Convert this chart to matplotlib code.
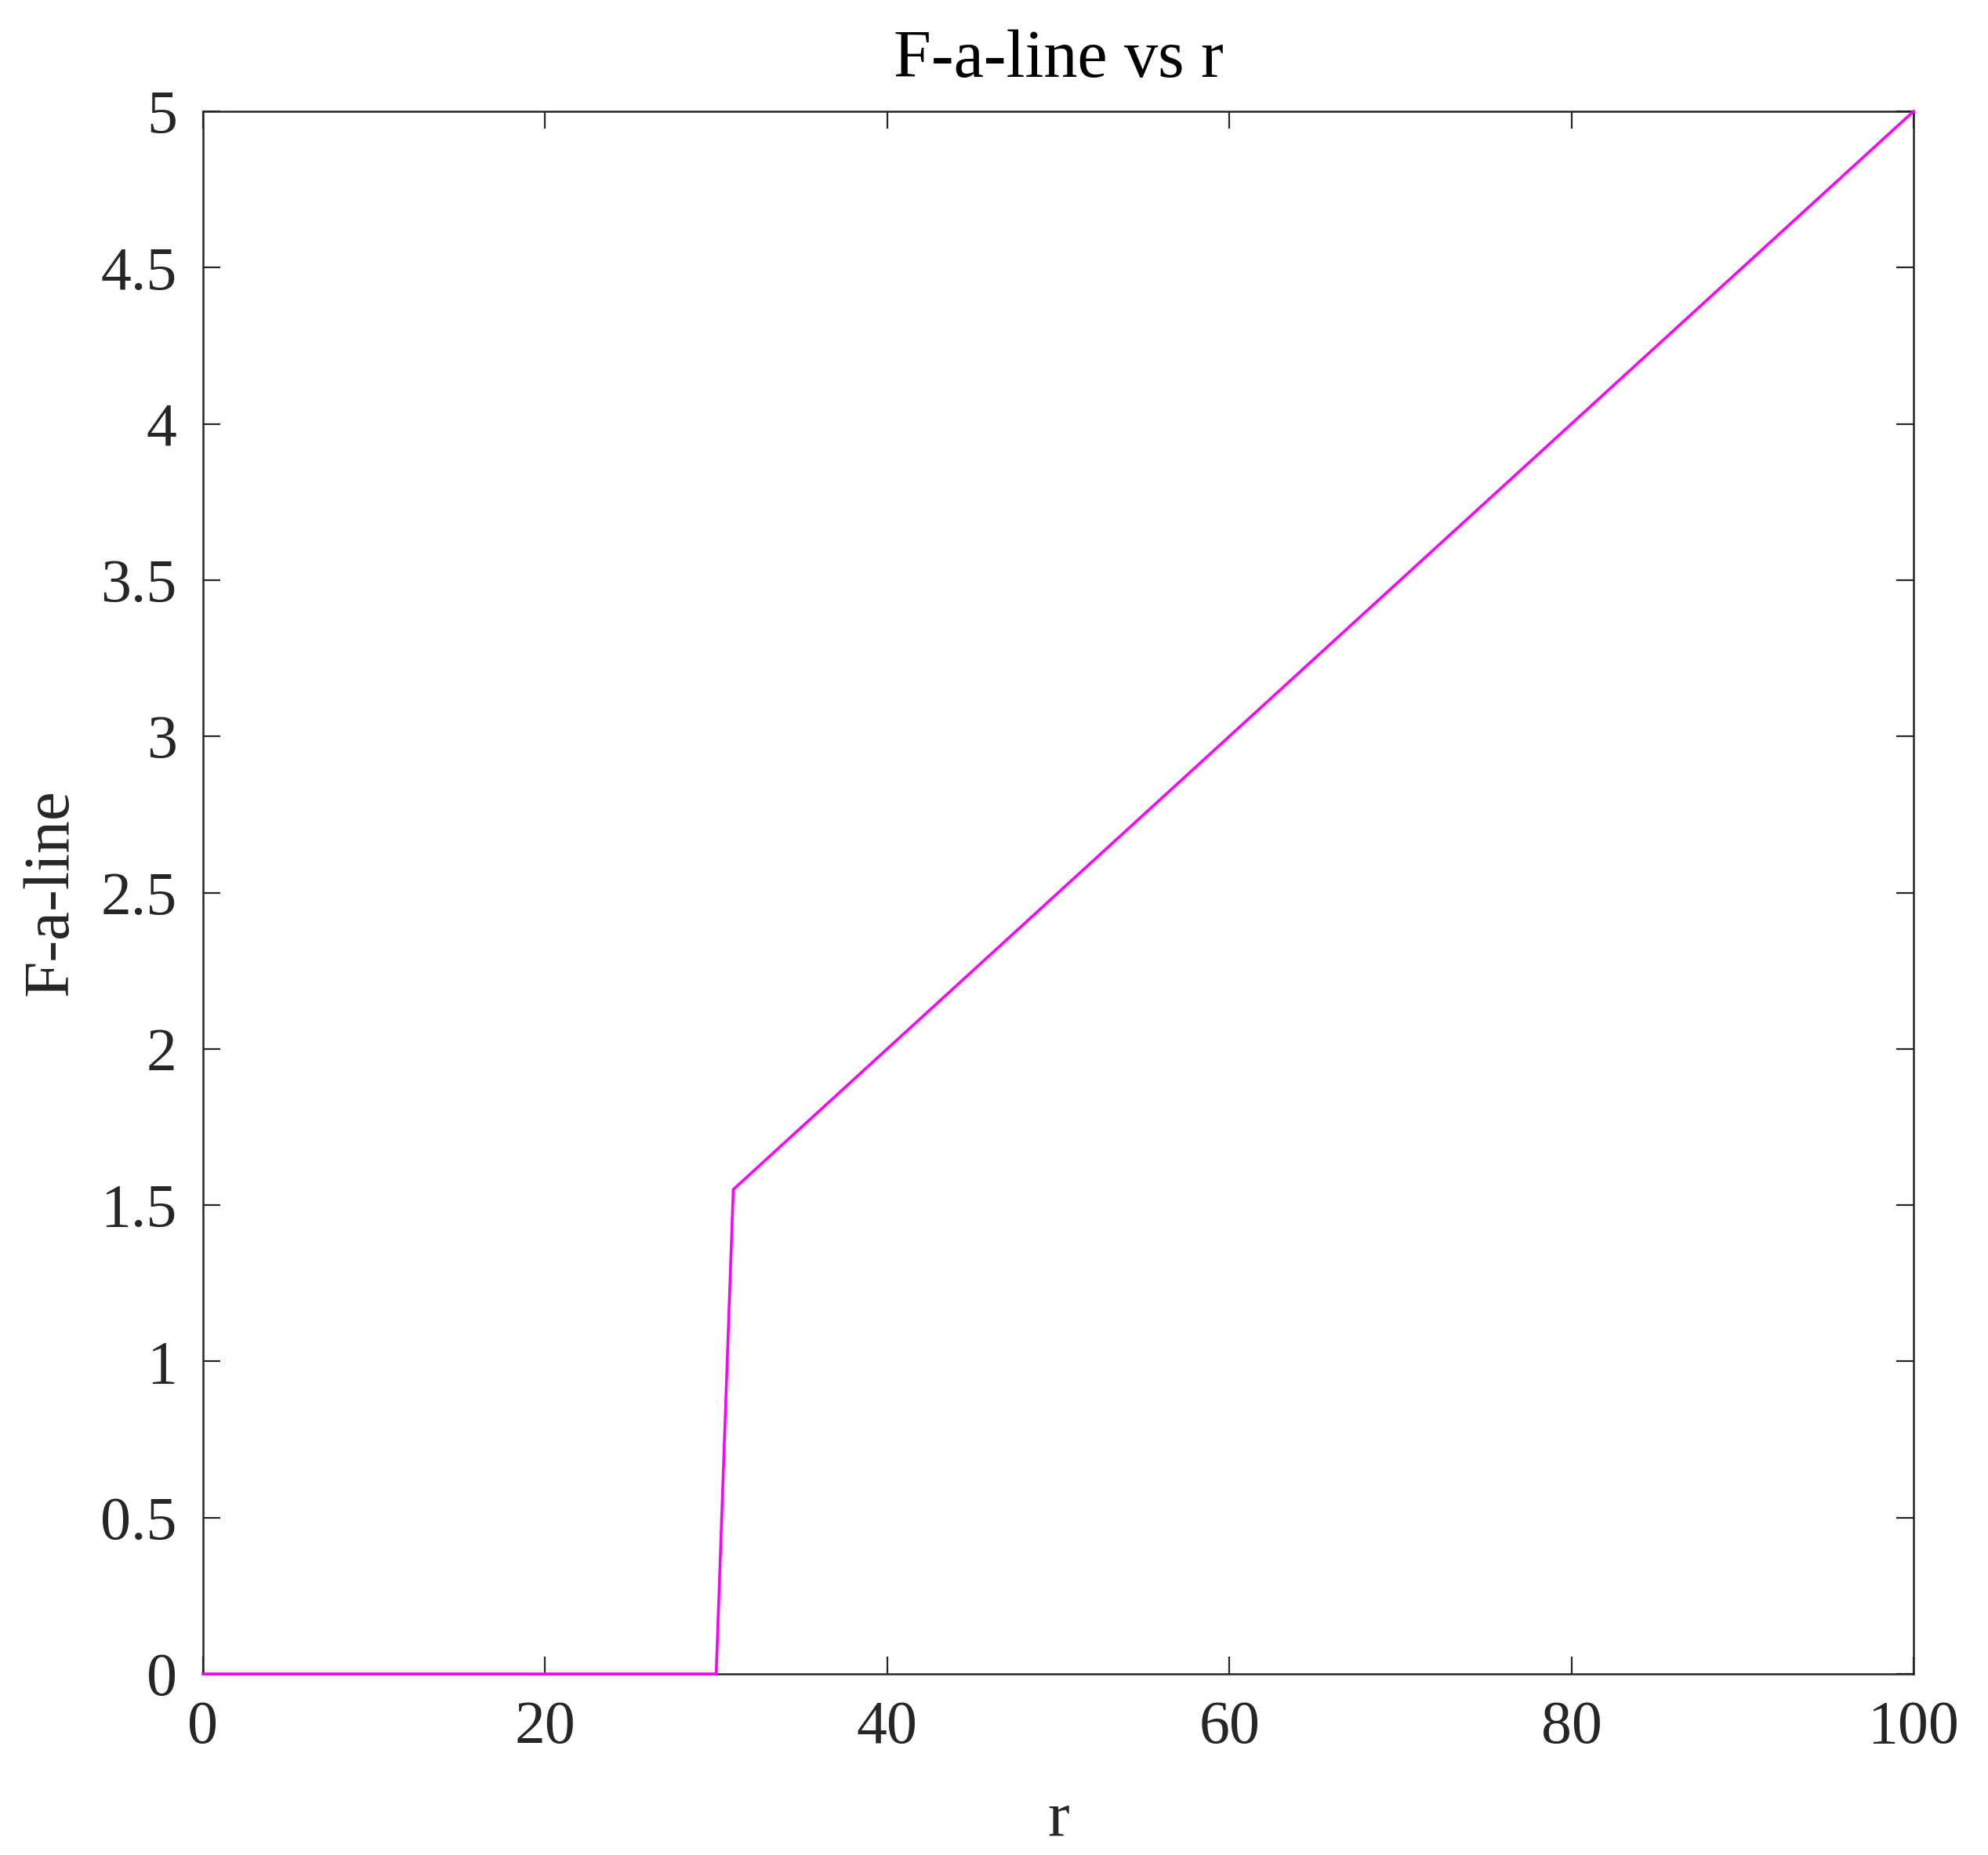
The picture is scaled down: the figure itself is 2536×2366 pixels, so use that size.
import matplotlib.pyplot as plt

# data
r = [0, 30, 31, 100]
f_a_line = [0, 0, 1.55, 5]

x_ticks = [0, 20, 40, 60, 80, 100]
y_ticks = [0, 0.5, 1, 1.5, 2, 2.5, 3, 3.5, 4, 4.5, 5]
y_labels = ['0', '0.5', '1', '1.5', '2', '2.5', '3', '3.5', '4', '4.5', '5']

plt.rcParams['font.family'] = ['Liberation Serif', 'DejaVu Serif']
dark = '#262626'

fig = plt.figure(figsize=(12.68, 11.83), dpi=200)
ax = fig.add_axes([259 / 2536, 1 - 2135 / 2366, (2441 - 259) / 2536, (2135 - 142) / 2366])

ax.plot(r, f_a_line, color='#ff00ff', lw=1.3, clip_on=False, zorder=3)

ax.set_xlim(0, 100)
ax.set_ylim(0, 5)
ax.set_xticks(x_ticks)
ax.set_yticks(y_ticks)
ax.set_yticklabels(y_labels)
ax.tick_params(direction='in', top=True, right=True, length=8, width=0.8,
               labelsize=28, colors=dark, pad=12)
for s in ax.spines.values():
    s.set_color(dark)
    s.set_linewidth(0.9)

ax.set_xlabel('r', fontsize=30, color=dark, labelpad=16)
ax.set_ylabel('F-a-line', fontsize=30, color=dark, labelpad=9)
ax.set_title('F-a-line vs r', fontsize=31, color='black', pad=16)

fig.savefig('out.png', dpi=200, facecolor='white')
